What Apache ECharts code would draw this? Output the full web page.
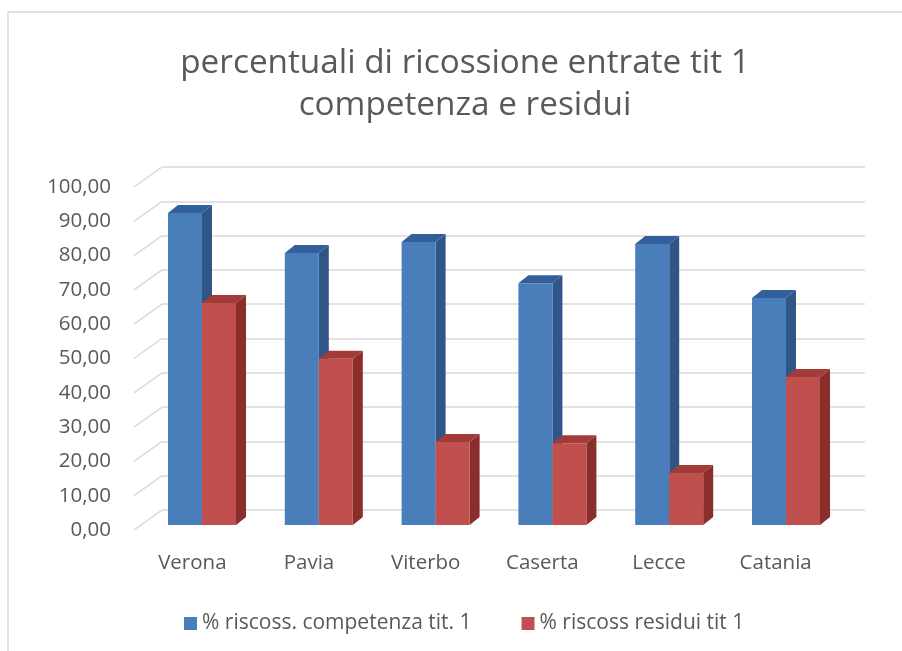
<!DOCTYPE html>
<html>
<head>
<meta charset="utf-8">
<title>percentuali di ricossione entrate tit 1</title>
<script src="https://cdn.jsdelivr.net/npm/echarts@6/dist/echarts.min.js"></script>
<style>
  html, body { margin: 0; padding: 0; background: #fff; }
  #chart { width: 902px; height: 651px; }
</style>
</head>
<body>
<div id="chart"></div>
<script>
// dati
var cities = ['Verona', 'Pavia', 'Viterbo', 'Caserta', 'Lecce', 'Catania'];
var competenza = [90.7, 79.1, 82.3, 70.3, 81.7, 66.0];
var residui = [64.5, 48.3, 24.1, 23.8, 15.1, 43.0];
var yTicks = [0, 10, 20, 30, 40, 50, 60, 70, 80, 90, 100];

var FONT = '"Open Sans", "Noto Sans", sans-serif';
var TEXT = '#595959';
var GRID_LINE = '#d9d9d9';

var chart = echarts.init(document.getElementById('chart'));

// barra "3D": faccia frontale, lato e cima
function bar3d (side, colors) {
  return function (params, api) {
    var i = api.value(0);
    var v = api.value(1);
    var base = api.coord([i, 0]);
    var head = api.coord([i, v]);
    var w = 34, dx = 10, dy = 8;
    var x0 = side < 0 ? base[0] - w : base[0];
    var x1 = x0 + w;
    var yb = base[1], yt = head[1];
    return {
      type: 'group',
      children: [
        {
          type: 'polygon',
          shape: { points: [[x1, yt], [x1 + dx, yt - dy], [x1 + dx, yb - dy], [x1, yb]] },
          style: { fill: colors.side }
        },
        {
          type: 'polygon',
          shape: { points: [[x0, yt], [x0 + dx, yt - dy], [x1 + dx, yt - dy], [x1, yt]] },
          style: { fill: colors.top }
        },
        {
          type: 'rect',
          shape: { x: x0, y: yt, width: w, height: yb - yt },
          style: { fill: colors.front }
        }
      ]
    };
  };
}

function toPairs (arr) {
  return arr.map(function (v, i) { return [i, v]; });
}

var blue = { front: '#4a7ebb', side: '#2f5686', top: '#33609a' };
var red = { front: '#c0504d', side: '#8a2d2b', top: '#a33b38' };

var option = {
  backgroundColor: '#fff',
  animation: false,
  title: {
    text: 'percentuali di ricossione entrate tit 1\ncompetenza e residui',
    left: 465,
    top: 43,
    padding: 0,
    textAlign: 'center',
    textStyle: {
      fontFamily: FONT,
      fontSize: 33.3,
      fontWeight: 'normal',
      color: TEXT,
      lineHeight: 42
    }
  },
  legend: {
    left: 179,
    top: 608,
    itemWidth: 13,
    itemHeight: 13,
    itemGap: 50,
    icon: 'rect',
    textStyle: { fontFamily: FONT, fontSize: 21, color: TEXT },
    data: ['% riscoss. competenza tit. 1', '% riscoss residui tit 1']
  },
  graphic: [
    {
      type: 'rect',
      shape: { x: 8, y: 12, width: 1000, height: 1000 },
      style: { fill: null, stroke: GRID_LINE, lineWidth: 1.5 },
      silent: true
    }
  ],
  grid: [
    // parete di fondo
    { left: 162, right: 37, top: 167, bottom: 141 },
    // piano frontale (etichette)
    { left: 134, width: 700, top: 187, bottom: 121 },
    // barre
    { left: 143.6, width: 700.8, top: 181, bottom: 126 }
  ],
  xAxis: [
    { type: 'category', gridIndex: 0, data: cities, show: false },
    {
      type: 'category',
      gridIndex: 1,
      data: cities,
      axisLine: { show: false },
      axisTick: { show: false },
      axisLabel: { fontFamily: FONT, fontSize: 20.5, color: TEXT, margin: 23 }
    },
    { type: 'category', gridIndex: 2, data: cities, show: false }
  ],
  yAxis: [
    {
      type: 'value',
      gridIndex: 0,
      min: 0,
      max: 100,
      interval: 10,
      axisLine: { show: false },
      axisTick: { show: false },
      axisLabel: { show: false },
      splitLine: { show: true, lineStyle: { color: GRID_LINE, width: 1.5 } }
    },
    {
      type: 'value',
      gridIndex: 1,
      min: 0,
      max: 100,
      interval: 10,
      axisLine: { show: false },
      axisTick: { show: false },
      splitLine: { show: false },
      axisLabel: {
        fontFamily: FONT,
        fontSize: 20.5,
        color: TEXT,
        margin: 23,
        formatter: function (v) { return v.toFixed(2).replace('.', ','); }
      }
    },
    { type: 'value', gridIndex: 2, min: 0, max: 100, show: false }
  ],
  series: [
    {
      // linee diagonali della parete laterale
      type: 'custom',
      xAxisIndex: 1,
      yAxisIndex: 1,
      silent: true,
      data: yTicks.map(function (v) { return [0, v]; }),
      renderItem: function (params, api) {
        var p = api.coord([0, api.value(1)]);
        var x = params.coordSys.x;
        return {
          type: 'line',
          shape: { x1: x, y1: p[1], x2: x + 28, y2: p[1] - 20 },
          style: { stroke: GRID_LINE, lineWidth: 1.5 }
        };
      }
    },
    {
      name: '% riscoss. competenza tit. 1',
      type: 'custom',
      xAxisIndex: 2,
      yAxisIndex: 2,
      itemStyle: { color: blue.front },
      data: toPairs(competenza),
      encode: { x: 0, y: 1 },
      renderItem: bar3d(-1, blue)
    },
    {
      name: '% riscoss residui tit 1',
      type: 'custom',
      xAxisIndex: 2,
      yAxisIndex: 2,
      itemStyle: { color: red.front },
      data: toPairs(residui),
      encode: { x: 0, y: 1 },
      renderItem: bar3d(1, red)
    }
  ]
};

chart.setOption(option);
</script>
</body>
</html>
